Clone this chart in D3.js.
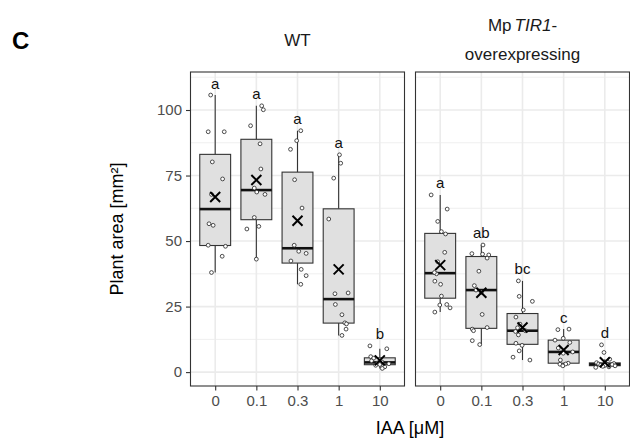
<!DOCTYPE html>
<html>
<head>
<meta charset="utf-8">
<script src="https://cdn.jsdelivr.net/npm/d3@7"></script>
<style>
  body { margin: 0; background: #fff; }
  svg text { font-family: "Liberation Sans", Arial, Helvetica, sans-serif; }
</style>
</head>
<body>
<svg id="chart" width="630" height="441"></svg>
<script>
// IAA dose levels (µM) shown on the x axis of each facet
const doses = ["0", "0.1", "0.3", "1", "10"];
const yTicks = [0, 25, 50, 75, 100];

// Plant area (mm²) of individual plants, one list per IAA dose
const wtArea = [
  [105.7, 91.7, 91.7, 80.2, 73.7, 67.8, 56.6, 56.0, 48.4, 48.0, 44.2, 38.0],
  [101.6, 100.1, 94.0, 87.1, 77.5, 70.2, 68.7, 67.8, 59.0, 55.6, 54.6, 43.1],
  [92.1, 88.3, 85.0, 73.4, 62.6, 48.4, 46.1, 45.3, 42.4, 39.2, 36.8, 33.5],
  [82.9, 79.7, 74.0, 58.4, 29.9, 30.2, 25.8, 21.9, 18.8, 18.4, 16.4, 14.0],
  [10.0, 8.9, 5.9, 5.3, 4.3, 3.9, 3.5, 3.2, 2.9, 2.6, 2.0, 1.4]
];
const tirArea = [
  [67.6, 62.2, 57.5, 53.6, 52.7, 45.7, 42.1, 37.5, 38.0, 34.7, 33.5, 29.0, 25.8, 25.6, 24.5, 22.9],
  [48.5, 45.2, 45.0, 44.7, 43.5, 38.5, 33.0, 31.3, 30.5, 22.0, 17.0, 16.4, 15.8, 12.0, 10.5],
  [34.8, 28.9, 27.0, 23.7, 21.0, 18.3, 16.9, 15.8, 15.5, 14.2, 11.0, 10.2, 8.1, 5.7, 4.6],
  [16.4, 16.2, 12.9, 12.2, 11.3, 9.2, 7.7, 7.2, 4.6, 3.4, 3.1, 3.0, 2.4],
  [10.4, 7.5, 4.9, 3.6, 3.3, 3.1, 3.0, 2.9, 2.7, 2.6, 2.4, 2.2, 2.0, 1.8]
];

// Horizontal jitter of each plant, as a fraction of the category step
const wtJitter = [
  [-0.11, -0.17, 0.22, -0.07, 0.18, -0.09, -0.15, -0.05, -0.17, 0.25, 0.17, -0.09],
  [0.13, 0.17, -0.14, 0.09, 0.11, -0.05, 0.01, 0.21, -0.05, 0.06, -0.23, 0.00],
  [0.08, -0.02, -0.17, -0.07, 0.11, -0.08, 0.03, 0.21, -0.16, 0.09, 0.21, 0.08],
  [0.02, 0.05, -0.12, -0.24, -0.09, 0.23, -0.08, 0.08, 0.15, 0.19, 0.18, 0.08],
  [-0.24, 0.17, -0.22, -0.15, -0.20, 0.05, -0.05, 0.22, 0.00, -0.10, 0.12, 0.06]
];
const tirJitter = [
  [-0.22, 0.17, -0.06, 0.03, 0.13, 0.11, -0.06, -0.09, -0.14, -0.13, 0.01, 0.03, 0.16, -0.01, 0.24, -0.13],
  [0.04, -0.23, 0.03, 0.18, 0.14, -0.06, -0.17, -0.13, 0.00, 0.02, 0.14, -0.22, -0.19, -0.22, -0.04],
  [-0.10, -0.08, 0.24, 0.02, -0.16, -0.06, -0.12, 0.07, -0.17, -0.10, -0.16, -0.01, -0.08, -0.23, 0.18],
  [0.13, -0.14, -0.01, -0.21, 0.15, -0.13, 0.22, -0.01, -0.08, 0.11, 0.05, -0.09, -0.02],
  [-0.08, -0.02, 0.12, -0.20, 0.22, -0.15, 0.05, 0.18, -0.10, 0.00, 0.25, -0.05, 0.10, -0.22]
];

// Significance groups (Tukey letters) per dose
const wtLetters = ["a", "a", "a", "a", "b"];
const tirLetters = ["a", "ab", "bc", "c", "d"];

const svg = d3.select("#chart");

const panelTop = 72, panelBottom = 386, panelW = 214;
const panelLefts = [190.5, 415.5];

const y = d3.scaleLinear().domain([-5.3, 114.5]).range([panelBottom, panelTop]);

const panels = [
  { area: wtArea, jitter: wtJitter, letters: wtLetters },
  { area: tirArea, jitter: tirJitter, letters: tirLetters }
];

// minor grid values halfway between the major ticks
const minorTicks = yTicks.map(t => t + 12.5).concat([yTicks[0] - 12.5])
  .filter(v => v > y.domain()[0] && v < y.domain()[1]);

function boxStats(vals) {
  const s = vals.slice().sort(d3.ascending);
  const q1 = d3.quantileSorted(s, 0.25);
  const med = d3.quantileSorted(s, 0.5);
  const q3 = d3.quantileSorted(s, 0.75);
  const iqr = q3 - q1;
  const lo = d3.min(s.filter(v => v >= q1 - 1.5 * iqr));
  const hi = d3.max(s.filter(v => v <= q3 + 1.5 * iqr));
  return { q1, med, q3, lo, hi, mean: d3.mean(s), max: d3.max(s) };
}

panels.forEach((p, pi) => {
  const x0 = panelLefts[pi];
  const x = d3.scalePoint().domain(doses).range([x0, x0 + panelW]).padding(0.6);
  const step = x.step();
  const boxW = step * 0.75;
  const g = svg.append("g");

  g.append("rect").attr("x", x0).attr("y", panelTop)
    .attr("width", panelW).attr("height", panelBottom - panelTop).attr("fill", "#fff");

  // grid
  g.selectAll(".minor").data(minorTicks).join("line")
    .attr("x1", x0).attr("x2", x0 + panelW)
    .attr("y1", d => y(d)).attr("y2", d => y(d))
    .attr("stroke", "#ebebeb").attr("stroke-width", 0.8);
  g.selectAll(".major").data(yTicks).join("line")
    .attr("x1", x0).attr("x2", x0 + panelW)
    .attr("y1", d => y(d)).attr("y2", d => y(d))
    .attr("stroke", "#ebebeb").attr("stroke-width", 1.6);
  g.selectAll(".vmajor").data(doses).join("line")
    .attr("x1", d => x(d)).attr("x2", d => x(d))
    .attr("y1", panelTop).attr("y2", panelBottom)
    .attr("stroke", "#ebebeb").attr("stroke-width", 1.6);

  doses.forEach((dose, i) => {
    const vals = p.area[i];
    const st = boxStats(vals);
    const cx = x(dose);
    const bg = g.append("g");

    // whiskers
    bg.append("line").attr("x1", cx).attr("x2", cx)
      .attr("y1", y(st.q3)).attr("y2", y(st.hi))
      .attr("stroke", "#333").attr("stroke-width", 1.1);
    bg.append("line").attr("x1", cx).attr("x2", cx)
      .attr("y1", y(st.q1)).attr("y2", y(st.lo))
      .attr("stroke", "#333").attr("stroke-width", 1.1);
    // box
    bg.append("rect").attr("x", cx - boxW / 2).attr("width", boxW)
      .attr("y", y(st.q3)).attr("height", Math.max(0, y(st.q1) - y(st.q3)))
      .attr("fill", "#e0e0e0").attr("stroke", "#333").attr("stroke-width", 1.1);
    // median
    bg.append("line").attr("x1", cx - boxW / 2).attr("x2", cx + boxW / 2)
      .attr("y1", y(st.med)).attr("y2", y(st.med))
      .attr("stroke", "#111").attr("stroke-width", 2.6);

    // individual plants
    bg.selectAll("circle").data(vals).join("circle")
      .attr("cx", (d, j) => cx + p.jitter[i][j] * step)
      .attr("cy", d => y(d))
      .attr("r", 1.9)
      .attr("fill", "#fff").attr("stroke", "#222").attr("stroke-width", 0.8);

    // mean marker
    const my = y(st.mean), s = 5;
    bg.append("path")
      .attr("d", `M${cx - s},${my - s}L${cx + s},${my + s}M${cx - s},${my + s}L${cx + s},${my - s}`)
      .attr("stroke", "#000").attr("stroke-width", 2).attr("fill", "none");

    // group letter
    bg.append("text").attr("x", cx).attr("y", y(st.max) - 6.5)
      .attr("text-anchor", "middle").attr("font-size", 15).attr("fill", "#111")
      .text(p.letters[i]);
  });

  // panel border
  g.append("rect").attr("x", x0).attr("y", panelTop)
    .attr("width", panelW).attr("height", panelBottom - panelTop)
    .attr("fill", "none").attr("stroke", "#333").attr("stroke-width", 1.1);

  // x axis
  const ax = g.append("g").attr("transform", `translate(0,${panelBottom})`)
    .call(d3.axisBottom(x).tickSize(4.5).tickPadding(5));
  ax.select(".domain").remove();
  ax.selectAll("line").attr("stroke", "#333").attr("stroke-width", 1.1);
  ax.selectAll("text").attr("fill", "#4d4d4d").attr("font-size", 15)
    .style("font-family", '"Liberation Sans", Arial, sans-serif');

  if (pi === 0) {
    const ay = g.append("g").attr("transform", `translate(${x0},0)`)
      .call(d3.axisLeft(y).tickValues(yTicks).tickSize(4.5).tickPadding(4));
    ay.select(".domain").remove();
    ay.selectAll("line").attr("stroke", "#333").attr("stroke-width", 1.1);
    ay.selectAll("text").attr("fill", "#4d4d4d").attr("font-size", 15)
      .style("font-family", '"Liberation Sans", Arial, sans-serif');
  }
});

// facet strip labels
const stripWT = panelLefts[0] + panelW / 2;
const stripTIR = panelLefts[1] + panelW / 2;
svg.append("text").attr("x", stripWT).attr("y", 46).attr("text-anchor", "middle")
  .attr("font-size", 17).attr("fill", "#1a1a1a").text("WT");
const t1 = svg.append("text").attr("x", stripTIR).attr("y", 31).attr("text-anchor", "middle")
  .attr("font-size", 17).attr("fill", "#1a1a1a");
t1.append("tspan").text("Mp");
t1.append("tspan").attr("dx", 3).attr("font-style", "italic").text("TIR1");
t1.append("tspan").text("-");
svg.append("text").attr("x", stripTIR).attr("y", 60).attr("text-anchor", "middle")
  .attr("font-size", 17).attr("fill", "#1a1a1a").text("overexpressing");

// axis titles
svg.append("text").attr("transform", `translate(123,${(panelTop + panelBottom) / 2}) rotate(-90)`)
  .attr("text-anchor", "middle").attr("font-size", 18).attr("fill", "#000")
  .text("Plant area [mm²]");
svg.append("text").attr("x", (panelLefts[0] + panelLefts[1] + panelW) / 2).attr("y", 434)
  .attr("text-anchor", "middle").attr("font-size", 18).attr("fill", "#000")
  .text("IAA [μM]");

// panel tag
svg.append("text").attr("x", 12).attr("y", 49).attr("font-size", 24)
  .attr("font-weight", "bold").attr("fill", "#000").text("C");
</script>
</body>
</html>
